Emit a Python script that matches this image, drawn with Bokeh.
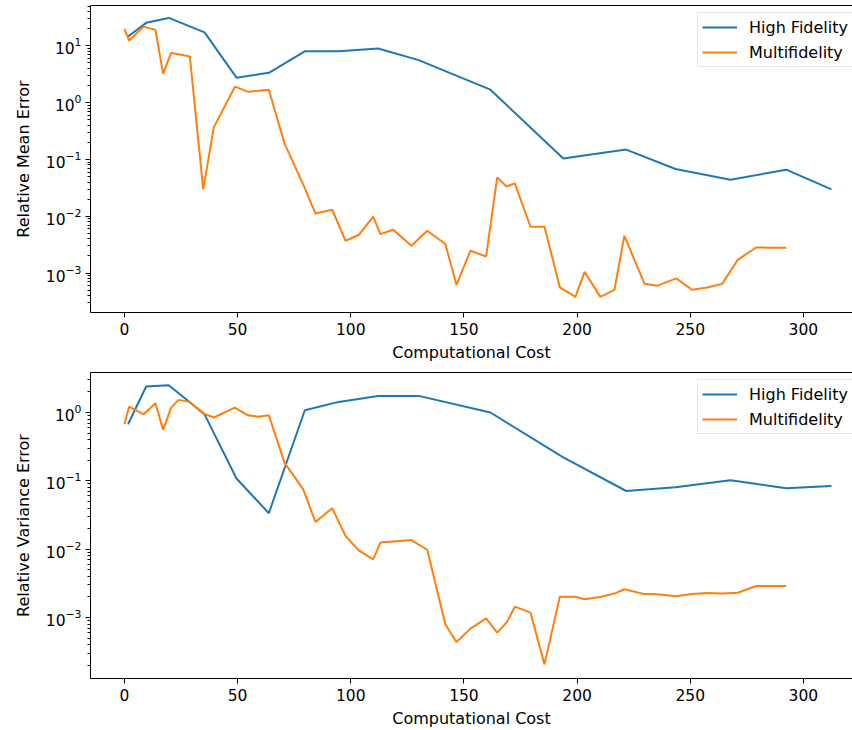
from bokeh.plotting import figure
from bokeh.layouts import column
from bokeh.models import Range1d, FixedTicker, LinearAxis, Legend, LegendItem
from bokeh.embed import file_html
from bokeh.resources import INLINE

# ---------------- data ----------------
hf_cost = [1.6, 9.6, 19.6, 35.4, 49.5, 63.8, 79.7, 94.7, 112.1, 130.0, 161.7,
           193.9, 221.7, 243.5, 267.8, 292.4, 312.4]
hf_mean = [14.6, 25.4, 31.0, 17.3, 2.75, 3.35, 8.0, 8.0, 9.0, 5.6, 1.69,
           0.104, 0.149, 0.068, 0.044, 0.066, 0.0297]
hf_var = [0.674, 2.40, 2.51, 0.94, 0.108, 0.0336, 1.08, 1.43, 1.75, 1.75, 1.0,
          0.22, 0.071, 0.0806, 0.102, 0.078, 0.0843]

mf_cost = [0.0, 2.1, 8.5, 13.7, 17.1, 20.6, 24.0, 28.9, 34.8, 39.5, 48.8, 54.5,
           59.0, 63.8, 70.7, 79.0, 84.4, 91.8, 97.7, 103.5, 109.9, 113.1, 118.7,
           126.8, 133.8, 141.8, 146.7, 152.9, 159.8, 164.7, 168.8, 172.5, 179.4,
           185.6, 192.4, 199.3, 203.3, 210.3, 216.5, 220.9, 229.8, 235.6, 243.8,
           250.8, 257.5, 264.1, 271.0, 279.1, 285.5, 292.4]
mf_mean = [19.9, 12.4, 21.8, 19.1, 3.2, 7.5, 7.1, 6.5, 0.030, 0.367, 1.91, 1.56,
           1.62, 1.69, 0.192, 0.036, 0.0112, 0.013, 0.0037, 0.00467, 0.0098,
           0.00485, 0.00578, 0.00302, 0.00555, 0.00324, 0.00062, 0.00247,
           0.00196, 0.0483, 0.0335, 0.0379, 0.00653, 0.00653, 0.000557,
           0.000381, 0.00105, 0.000381, 0.000507, 0.00453, 0.000645, 0.0006,
           0.000804, 0.000507, 0.000557, 0.000645, 0.00171, 0.00282, 0.0028,
           0.0028]
mf_var = [0.674, 1.22, 0.94, 1.37, 0.557, 1.18, 1.53, 1.43, 0.97, 0.845, 1.18,
          0.91, 0.87, 0.91, 0.185, 0.075, 0.025, 0.0398, 0.0156, 0.0096, 0.0071,
          0.0125, 0.013, 0.0136, 0.0098, 0.00079, 0.000437, 0.000687, 0.000973,
          0.0006, 0.00084, 0.00144, 0.00118, 0.000206, 0.00202, 0.00202,
          0.00185, 0.0020, 0.00224, 0.00259, 0.0022, 0.00219, 0.00204, 0.0022,
          0.00229, 0.00224, 0.0023, 0.00289, 0.00289, 0.00289]

series_names = ["High Fidelity", "Multifidelity"]
colors = ["#1f77b4", "#ff7f0e"]
x_ticks = [0, 50, 100, 150, 200, 250, 300]
FONT = "DejaVu Sans"


def decade_ticks(lo, hi):
    major = [10.0 ** k for k in range(lo, hi + 1)]
    minor = [m * 10.0 ** k for k in range(lo - 1, hi + 1) for m in range(2, 10)]
    return major, minor


def make_plot(ylabel, y_lo, y_hi, hf_y, mf_y, dec_lo, dec_hi, top_border,
              frame_h, height, legend_loc):
    p = figure(width=852, height=height, frame_width=762, frame_height=frame_h,
               y_axis_type="log", output_backend="svg", toolbar_location=None,
               x_range=Range1d(-15.0, 321.7), y_range=Range1d(y_lo, y_hi),
               min_border_left=90, min_border_right=0, min_border_top=top_border,
               min_border_bottom=10)
    p.background_fill_color = "white"
    p.border_fill_color = "white"
    p.outline_line_color = None
    p.xgrid.visible = False
    p.ygrid.visible = False

    r1 = p.line(hf_cost, hf_y, line_color=colors[0], line_width=2)
    r2 = p.line(mf_cost, mf_y, line_color=colors[1], line_width=2)

    major, minor = decade_ticks(dec_lo, dec_hi)
    p.yaxis.ticker = FixedTicker(ticks=major, minor_ticks=minor)
    p.xaxis.ticker = FixedTicker(ticks=x_ticks)

    for ax in (p.xaxis[0], p.yaxis[0]):
        ax.axis_line_color = "black"
        ax.axis_line_width = 1
        ax.major_tick_in = 0
        ax.major_tick_out = 5
        ax.minor_tick_in = 0
        ax.minor_tick_out = 3
        ax.major_tick_line_color = "black"
        ax.minor_tick_line_color = "black"
        ax.major_label_text_font = FONT
        ax.major_label_text_font_size = "15.5px"
        ax.major_label_text_color = "black"
        ax.axis_label_text_font = FONT
        ax.axis_label_text_font_size = "16px"
        ax.axis_label_text_font_style = "normal"
        ax.axis_label_text_color = "black"
    p.xaxis.minor_tick_out = 0
    p.xaxis.major_label_standoff = 5
    p.xaxis.axis_label_standoff = 5
    p.yaxis.major_label_standoff = 4
    p.yaxis.axis_label_standoff = 10
    p.xaxis.axis_label = "Computational Cost"
    p.yaxis.axis_label = ylabel

    top = LinearAxis(ticker=FixedTicker(ticks=[]), major_tick_out=0,
                     major_tick_in=0, minor_tick_out=0, minor_tick_in=0,
                     major_label_text_font_size="0px", axis_line_color="black",
                     axis_line_width=1)
    p.add_layout(top, "above")

    legend = Legend(items=[LegendItem(label=series_names[0], renderers=[r1]),
                           LegendItem(label=series_names[1], renderers=[r2])],
                    location=legend_loc)
    legend.label_text_font = FONT
    legend.label_text_font_size = "16px"
    legend.label_text_color = "black"
    legend.glyph_width = 35
    legend.glyph_height = 20
    legend.label_height = 20
    legend.label_standoff = 12
    legend.spacing = 5
    legend.padding = 4
    legend.margin = 0
    legend.border_line_color = "#cccccc"
    legend.border_line_width = 1
    legend.background_fill_alpha = 0.8
    p.add_layout(legend, "center")
    return p


p1 = make_plot("Relative Mean Error", 2.02e-4, 51.3, hf_mean, mf_mean, -3, 1,
               5, 307, 362, (607, 245))
p2 = make_plot("Relative Variance Error", 1.28e-4, 3.85, hf_var, mf_var, -3, 0,
               8, 306, 362, (607, 244))

layout = column(p1, p2, spacing=0)
open("out.html", "w").write(file_html(layout, INLINE))
